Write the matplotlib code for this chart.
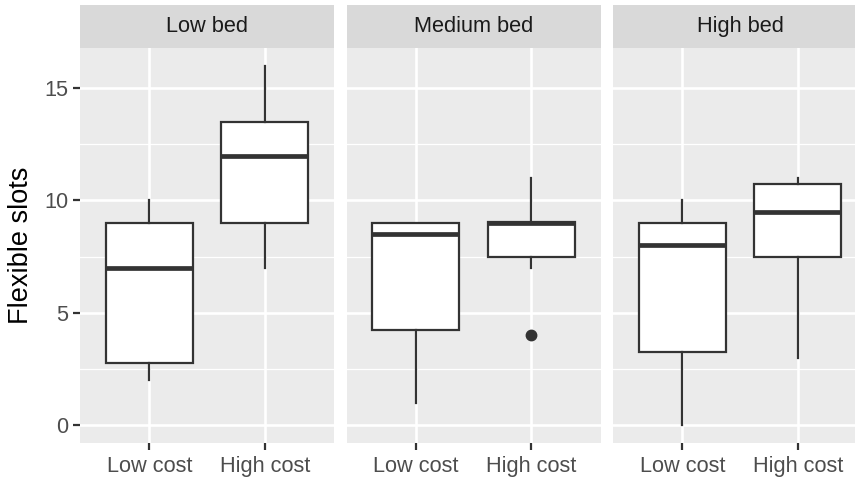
import matplotlib
matplotlib.use("Agg")
import matplotlib.pyplot as plt

plt.rcParams['font.family'] = ['Liberation Sans', 'DejaVu Sans']

facets = ["Low bed", "Medium bed", "High bed"]
categories = ["Low cost", "High cost"]

# box statistics per facet: [Low cost, High cost]
whisker_low = [[2, 7], [1, 7], [0, 3]]
q1 = [[2.75, 9], [4.25, 7.5], [3.25, 7.5]]
median = [[7, 12], [8.5, 9], [8, 9.5]]
q3 = [[9, 13.5], [9, 9.05], [9, 10.75]]
whisker_high = [[10, 16], [9, 11], [10, 11]]
outliers = [[[], []], [[], [4]], [[], []]]

y_ticks = [0, 5, 10, 15]
y_minor = [2.5, 7.5, 12.5]

W, H = 855, 480
fig = plt.figure(figsize=(W / 100, H / 100), dpi=100)

panel_w = 254
lefts = [80, 346.5, 613]
p_top, p_bot = 47.7, 443
s_top = 5

dark = "#333333"
for i, name in enumerate(facets):
    ax = fig.add_axes([lefts[i] / W, 1 - p_bot / H, panel_w / W, (p_bot - p_top) / H])
    ax.set_facecolor("#EBEBEB")
    for s in ax.spines.values():
        s.set_visible(False)
    for y in y_minor:
        ax.axhline(y, color="white", lw=0.9, zorder=0)
    for y in y_ticks:
        ax.axhline(y, color="white", lw=1.9, zorder=0)
    for x in [1, 2]:
        ax.axvline(x, color="white", lw=1.9, zorder=0)
    stats = []
    for j, c in enumerate(categories):
        stats.append(dict(whislo=whisker_low[i][j], q1=q1[i][j], med=median[i][j],
                          q3=q3[i][j], whishi=whisker_high[i][j], fliers=outliers[i][j],
                          label=c))
    ax.bxp(stats, positions=[1, 2], widths=0.75, patch_artist=True, showcaps=False,
           boxprops=dict(facecolor="white", edgecolor=dark, linewidth=1.6),
           whiskerprops=dict(color=dark, linewidth=1.6),
           medianprops=dict(color=dark, linewidth=3.4, solid_capstyle="butt"),
           flierprops=dict(marker="o", markerfacecolor=dark, markeredgecolor=dark,
                           markersize=7.5))
    ax.set_xlim(0.4, 2.6)
    ax.set_ylim(-0.8, 16.8)
    ax.set_xticks([1, 2])
    ax.set_xticklabels(categories, fontsize=15.7, color="#4D4D4D")
    ax.tick_params(axis="x", length=4.9, width=1.6, color=dark, pad=4.5)
    if i == 0:
        ax.set_yticks(y_ticks)
        ax.set_yticklabels([str(t) for t in y_ticks], fontsize=15.7, color="#4D4D4D")
        ax.tick_params(axis="y", length=4.9, width=1.6, color=dark, pad=3.5)
    else:
        ax.set_yticks([])
    # strip
    sax = fig.add_axes([lefts[i] / W, 1 - p_top / H, panel_w / W, (p_top - s_top) / H])
    sax.set_facecolor("#D9D9D9")
    for s in sax.spines.values():
        s.set_visible(False)
    sax.set_xticks([])
    sax.set_yticks([])
    sax.text(0.5, 0.5, name, ha="center", va="center", fontsize=15.7, color="#1A1A1A",
             transform=sax.transAxes)

fig.text(21 / W, 1 - ((p_top + p_bot) / 2) / H, "Flexible slots", rotation=90,
         ha="center", va="center", fontsize=19.5, color="black")

fig.savefig("out.png", dpi=100, facecolor="white")
